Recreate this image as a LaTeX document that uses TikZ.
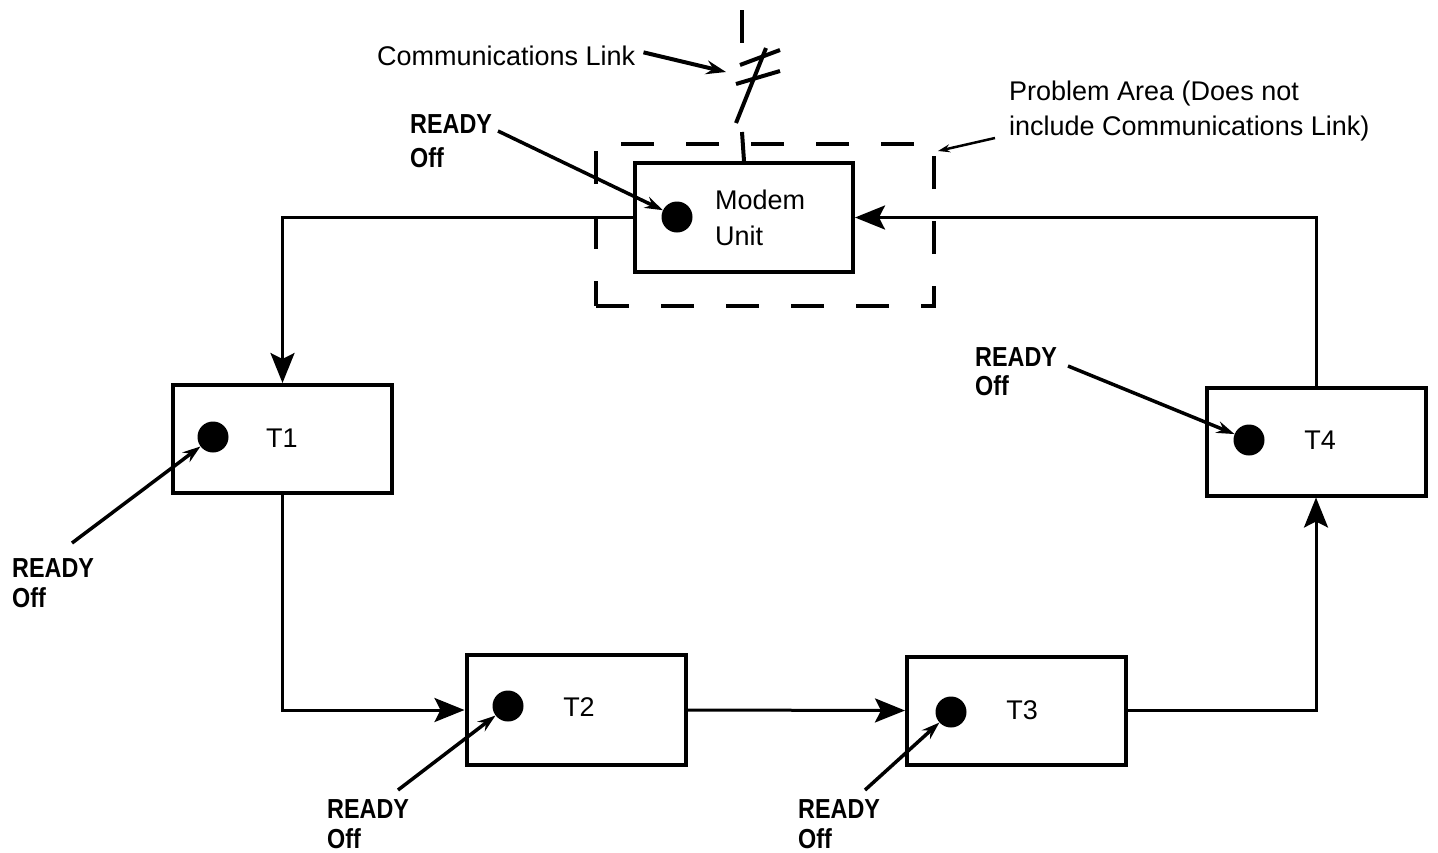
\documentclass[tikz,border=0pt]{standalone}
\usepackage{fontspec}
\setmainfont{Liberation Sans}
\newfontfamily\readyfont[FakeStretch=0.85]{Liberation Sans}
\usetikzlibrary{arrows.meta}
\begin{document}
\begin{tikzpicture}[x=1pt,y=-1pt,
  box/.style={draw, line width=4pt, minimum width=219pt, minimum height=108pt, inner sep=0pt},
  dot/.style={circle, fill, minimum size=31pt, inner sep=0pt},
  lbl/.style={font=\fontsize{27}{32}\selectfont, inner sep=0pt},
  rdy/.style={font=\readyfont\bfseries\fontsize{27.5}{32}\selectfont, inner sep=0pt, anchor=base west},
  flow/.style={line width=3pt, -{Stealth[length=30pt,width=24pt,inset=6pt]}},
  ptr/.style={line width=4pt, -{Stealth[length=20pt,width=14pt,inset=7pt]}},
  note/.style={line width=3.5pt, -{Stealth[length=18pt,width=12pt,inset=6pt]}},
  link/.style={line width=4pt}
]
\useasboundingbox (0,0) rectangle (1438,852);

% problem area
\node[draw, line width=4pt, dash pattern=on 33pt off 32pt, minimum width=338pt, minimum height=162pt, inner sep=0pt] (area) at (765,225) {};

% boxes
\node[box, minimum width=218pt, minimum height=109pt] (modem) at (744,217.5) {};
\node[box] (t1) at (282.5,439) {};
\node[box, minimum height=110pt] (t2) at (576,710) {};
\node[box] (t3) at (1016.5,710.5) {};
\node[box] (t4) at (1316,441.5) {};

% dots
\node[dot] (dm) at (677,217) {};
\node[dot] (d1) at (213,437) {};
\node[dot] (d2) at (508,706) {};
\node[dot] (d3) at (951,712) {};
\node[dot] (d4) at (1249,440) {};

% box labels
\node[lbl, anchor=base west] (modemA) at (715,209) {Modem};
\node[lbl, anchor=base west] (modemB) at (715,245) {Unit};
\node[lbl] (l1) at (282,438) {T1};
\node[lbl] (l2) at (579,707) {T2};
\node[lbl] (l3) at (1022,710) {T3};
\node[lbl] (l4) at (1320,440) {T4};

% flow connectors
\draw[flow] (modem.west) -| (t1.north);
\draw[flow] (t1.south) |- (t2.west);
\draw[flow] (t2.east) -- (t3.west);
\draw[flow] (t3.east) -| (t4.south);
\draw[flow] (t4.north) |- (modem.east);

% communications link
\coordinate (ca) at (742,10);
\coordinate (cb) at (742,43);
\coordinate (cc) at (736,123);
\coordinate (cd) at (766,48);
\coordinate (ce) at (742,132);
\draw[link] (ca) -- (cb);
\draw[link] (cc) -- (cd);
\draw[link] (740,65) -- (780,50);
\draw[link] (736,84) -- (780,71);
\draw[link] (modem.north) -- (ce);

\node[lbl, anchor=base west] (comm) at (377,65) {Communications Link};
\coordinate (linkpt) at (726,72);
\draw[ptr] ([xshift=8pt,yshift=3pt]comm.east) -- (linkpt);

% problem area label
\node[lbl, anchor=base west] (pa1) at (1009,100) {Problem Area (Does not};
\node[lbl, anchor=base west] (pa2) at (1009,135) {include Communications Link)};
\coordinate (pastart) at (995,138);
\coordinate (paend) at (938,151);
\draw[line width=2.5pt, -{Stealth[length=12pt,width=8pt,inset=4pt]}] (pastart) -- (paend);

% READY labels
\node[rdy] (rm) at (410,133) {READY};
\node[rdy] (om) at (410,167) {Off};
\node[rdy] (r1) at (12,577) {READY};
\node[rdy] (o1) at (12,607) {Off};
\node[rdy] (r2) at (327,818) {READY};
\node[rdy] (o2) at (327,848) {Off};
\node[rdy] (r3) at (798,818) {READY};
\node[rdy] (o3) at (798,848) {Off};
\node[rdy] (r4) at (975,366) {READY};
\node[rdy] (o4) at (975,395) {Off};

\coordinate (sm) at (498,131);
\coordinate (s1) at (72,543);
\coordinate (s2) at (398,790);
\coordinate (s3) at (865,790);
\coordinate (s4) at (1068,366);
\draw[note] (sm) -- (dm);
\draw[note] (s1) -- (d1);
\draw[note] (s2) -- (d2);
\draw[note] (s3) -- (d3);
\draw[note] (s4) -- (d4);
\end{tikzpicture}
\end{document}
